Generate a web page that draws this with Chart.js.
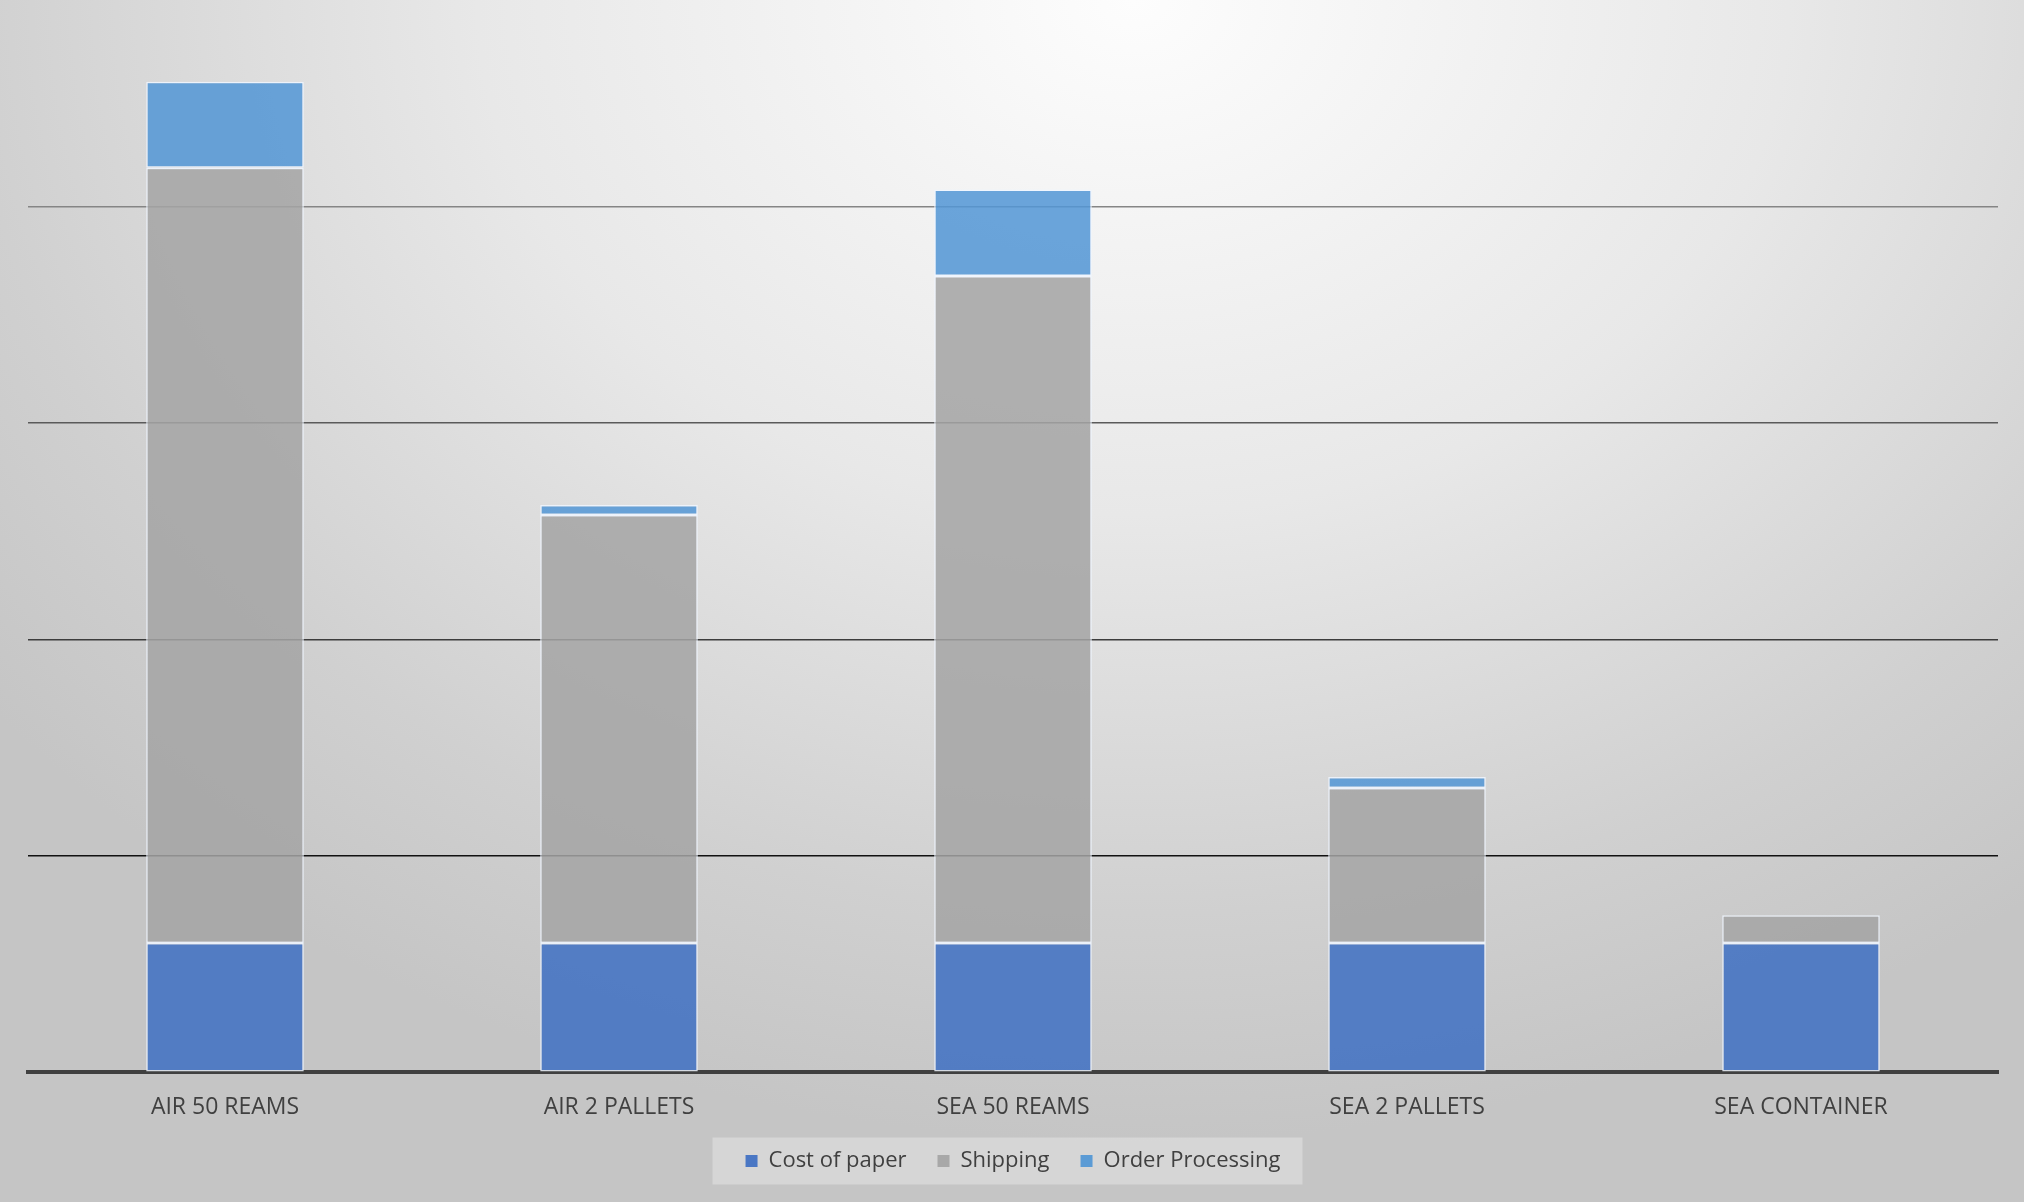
<!DOCTYPE html>
<html>
<head>
<meta charset="utf-8">
<script src="https://cdn.jsdelivr.net/npm/chart.js@4.4.1/dist/chart.umd.min.js"></script>
<style>
  html, body { margin: 0; padding: 0; }
  body {
    width: 2024px; height: 1202px; overflow: hidden;
    background: radial-gradient(ellipse 72% 95% at 56% 0%, #fdfdfd 0%, #e8e8e8 45%, #d0d0d0 80%, #c5c5c5 100%);
  }
  #wrap { position: absolute; left: 0; top: 0; width: 2024px; height: 1202px; }
</style>
</head>
<body>
<div id="wrap"><canvas id="c" width="2024" height="1202"></canvas></div>
<script>
const categories = ['AIR 50 REAMS', 'AIR 2 PALLETS', 'SEA 50 REAMS', 'SEA 2 PALLETS', 'SEA CONTAINER'];
const costOfPaper = [597, 597, 597, 597, 597];
const shipping = [3582, 1978, 3082, 716, 129];
const orderProcessing = [397, 46, 400, 51, 0];
const seriesNames = ['Cost of paper', 'Shipping', 'Order Processing'];
const gridValues = [0, 1000, 2000, 3000, 4000];
const axisMax = 4954;

const fills = ['rgba(63,112,195,0.86)', 'rgba(164,164,164,0.86)', 'rgba(83,150,213,0.86)'];
const solid = ['#4a77c4', '#a8a8a8', '#5b9bd5'];
const gridLineColors = ['rgba(0,0,0,0)', '#111111', '#3c3c3c', '#5a5a5a', '#858585'];

const legendBox = {
  id: 'legendBox',
  beforeDraw(chart) {
    const lg = chart.legend;
    if (!lg || !lg.legendHitBoxes || !lg.legendHitBoxes.length) return;
    const hb = lg.legendHitBoxes;
    const left = Math.min(...hb.map(h => h.left)) - 33;
    const right = Math.max(...hb.map(h => h.left + h.width)) + 22;
    const cy = hb[0].top + hb[0].height / 2;
    const ctx = chart.ctx;
    ctx.save();
    ctx.fillStyle = 'rgba(255,255,255,0.30)';
    ctx.fillRect(left, cy - 23.5, right - left, 47);
    ctx.restore();
  }
};

const ds = [costOfPaper, shipping, orderProcessing].map((d, i) => ({
  label: seriesNames[i],
  data: d,
  backgroundColor: fills[i],
  borderColor: 'rgba(240,246,255,0.85)',
  borderWidth: 1.5,
  borderSkipped: false,
  barPercentage: 0.40,
  categoryPercentage: 1.0
}));

new Chart(document.getElementById('c'), {
  type: 'bar',
  data: { labels: categories, datasets: ds },
  plugins: [legendBox],
  options: {
    responsive: false,
    devicePixelRatio: 1,
    animation: false,
    layout: { padding: { left: 28, right: 26, top: 0, bottom: 20 } },
    scales: {
      x: {
        stacked: true,
        grid: { display: false, drawTicks: false },
        border: { display: true, color: '#404040', width: 4 },
        ticks: { color: '#404040', font: { family: 'Open Sans', size: 23 }, padding: 21 },
        afterFit: (scale) => { scale.height = 46.7; }
      },
      y: {
        type: 'linear',
        stacked: true,
        display: true,
        min: 0,
        max: axisMax,
        border: { display: false },
        afterBuildTicks: (scale) => { scale.ticks = gridValues.map(v => ({ value: v })); },
        grid: {
          display: true,
          drawOnChartArea: true,
          drawTicks: false,
          lineWidth: 1.6,
          color: gridLineColors
        },
        ticks: { display: false }
      }
    },
    plugins: {
      tooltip: { enabled: false },
      legend: {
        position: 'bottom',
        labels: {
          color: '#404040',
          font: { family: 'Open Sans', size: 22 },
          boxWidth: 12,
          boxHeight: 12,
          padding: 31,
          generateLabels: (chart) => chart.data.datasets.map((d, i) => ({
            text: d.label,
            fillStyle: solid[i],
            strokeStyle: solid[i],
            lineWidth: 0,
            fontColor: '#404040',
            hidden: false,
            datasetIndex: i
          }))
        }
      }
    }
  }
});
</script>
</body>
</html>
